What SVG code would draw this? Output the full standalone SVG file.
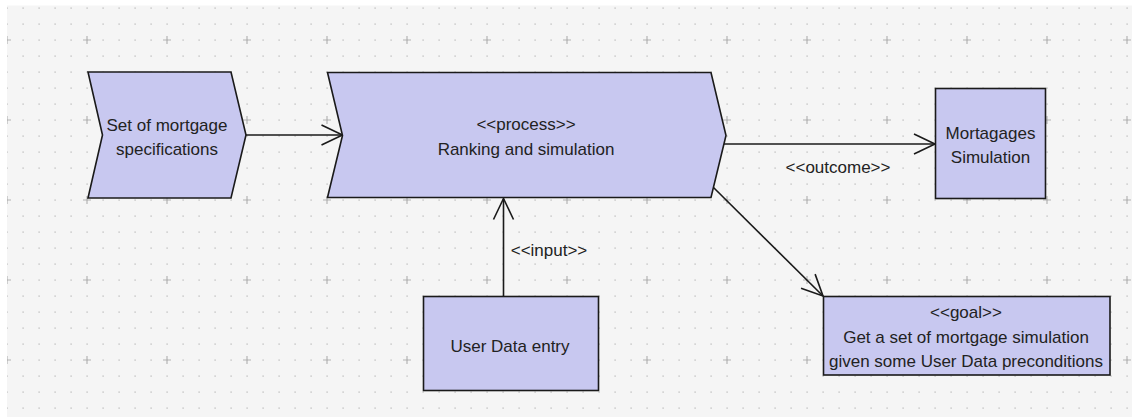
<svg xmlns="http://www.w3.org/2000/svg" width="1132" height="417" viewBox="0 0 1132 417">
  <style>
    .node { fill: #c8c8f0; stroke: #1a1a1a; stroke-width: 1.6; stroke-linejoin: miter; }
    .label { font-family: "Liberation Sans", Arial, sans-serif; font-size: 17px; fill: #222; text-anchor: middle; }
    .edge { fill: none; stroke: #1a1a1a; stroke-width: 1.6; }
  </style>
  <defs>
    <!-- fine dot grid, 16px pitch -->
    <pattern id="dots" x="7" y="8" width="16" height="16" patternUnits="userSpaceOnUse">
      <rect x="-0.6" y="-0.6" width="1.4" height="1.4" fill="#c4c4c4"/>
      <rect x="15.4" y="-0.6" width="1.4" height="1.4" fill="#c4c4c4"/>
      <rect x="-0.6" y="15.4" width="1.4" height="1.4" fill="#c4c4c4"/>
      <rect x="15.4" y="15.4" width="1.4" height="1.4" fill="#c4c4c4"/>
    </pattern>
    <!-- major crosses, 80px pitch -->
    <pattern id="crosses" x="7" y="40" width="80" height="80" patternUnits="userSpaceOnUse">
      <path d="M-4,0 H4 M0,-4 V4 M76,0 H84 M80,-4 V4 M-4,80 H4 M0,76 V84 M76,80 H84 M80,76 V84" stroke="#b4b4b4" stroke-width="1.2"/>
    </pattern>
    <marker id="open-arrow" markerUnits="userSpaceOnUse" markerWidth="30" markerHeight="30" viewBox="-25 -15 30 30" refX="0" refY="0" orient="auto">
      <path d="M-21,-10 L0,0 L-21,10" fill="none" stroke="#1a1a1a" stroke-width="1.6"/>
    </marker>
  </defs>

  <!-- canvas -->
  <rect x="0" y="0" width="1132" height="417" fill="#ffffff"/>
  <rect x="7" y="5.5" width="1125" height="411.5" fill="#f5f5f5"/>
  <rect x="7" y="5.5" width="1125" height="411.5" fill="url(#dots)"/>
  <rect x="7" y="5.5" width="1125" height="411.5" fill="url(#crosses)"/>

  <!-- connectors -->
  <g id="connectors">
    <line class="edge" x1="246" y1="135" x2="342.5" y2="135" marker-end="url(#open-arrow)"/>
    <line class="edge" x1="724" y1="144" x2="935" y2="144" marker-end="url(#open-arrow)"/>
    <text class="label" x="838" y="172.5">&lt;&lt;outcome&gt;&gt;</text>
    <line class="edge" x1="503.5" y1="296" x2="503.5" y2="198.5" marker-end="url(#open-arrow)"/>
    <text class="label" x="549" y="256">&lt;&lt;input&gt;&gt;</text>
    <line class="edge" x1="713" y1="187" x2="823" y2="296" marker-end="url(#open-arrow)"/>
  </g>

  <g id="mortgage-specifications">
    <polygon class="node" points="88,72 231,72 246,135 231,198 88,198 102.5,135"/>
    <text class="label" x="167" y="131">Set of mortgage</text>
    <text class="label" x="167" y="155">specifications</text>
  </g>

  <g id="ranking-process">
    <polygon class="node" points="327.5,72.5 711,72.5 726,135.5 711,197.5 327.5,197.5 342.5,135.5"/>
    <text class="label" x="526" y="130">&lt;&lt;process&gt;&gt;</text>
    <text class="label" x="526" y="154.5">Ranking and simulation</text>
  </g>

  <g id="mortgages-simulation">
    <rect class="node" x="935.5" y="88.5" width="110" height="110"/>
    <text class="label" x="990.5" y="139">Mortagages</text>
    <text class="label" x="990.5" y="163">Simulation</text>
  </g>

  <g id="user-data-entry">
    <rect class="node" x="423.5" y="296.5" width="175" height="94"/>
    <text class="label" x="510" y="351.5">User Data entry</text>
  </g>

  <g id="goal">
    <rect class="node" x="823.5" y="296.5" width="286.5" height="78.5"/>
    <text class="label" x="966" y="318">&lt;&lt;goal&gt;&gt;</text>
    <text class="label" x="966" y="343">Get a set of mortgage simulation</text>
    <text class="label" x="966" y="367">given some User Data preconditions</text>
  </g>
</svg>
